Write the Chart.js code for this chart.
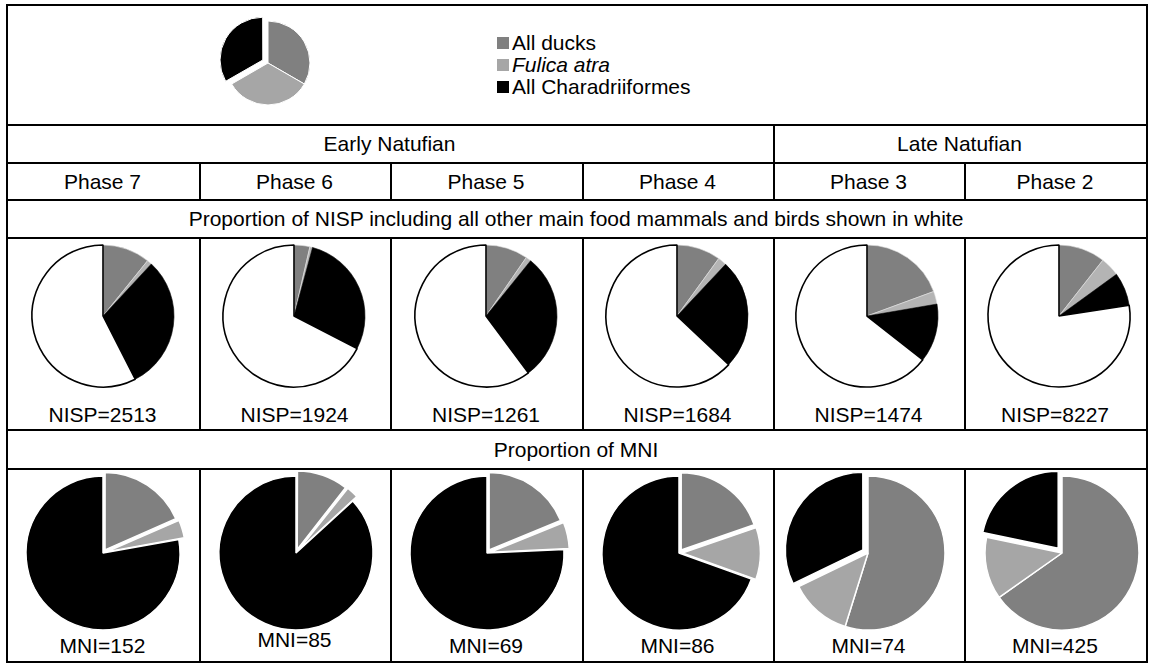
<!DOCTYPE html>
<html>
<head>
<meta charset="utf-8">
<script src="https://cdn.jsdelivr.net/npm/chart.js@4"></script>
<style>
  body { margin: 0; background: #fff; }
  #fig { position: relative; width: 1149px; height: 664px; background: #fff; font-family: "Liberation Sans", Arial, sans-serif; color: #000; overflow: hidden; }
  .hl, .vl { position: absolute; background: #000; }
  .txt { position: absolute; display: flex; align-items: center; justify-content: center; font-size: 21px; white-space: nowrap; }
  canvas { position: absolute; }
  .leg { position: absolute; left: 497px; font-size: 21px; line-height: 22px; }
  .leg div { display: flex; align-items: center; height: 22px; }
  .sw { display: inline-block; width: 12px; height: 12px; margin-right: 3px; }
</style>
</head>
<body>
<div id="fig"></div>
<script>
// ---- data (percent of each pie) ----
const phases = ['Phase 7', 'Phase 6', 'Phase 5', 'Phase 4', 'Phase 3', 'Phase 2'];
const periods = ['Early Natufian', 'Late Natufian'];
const seriesNames = ['All ducks', 'Fulica atra', 'All Charadriiformes'];
const legendShare = [1, 1, 1];

const nispTotals = [2513, 1924, 1261, 1684, 1474, 8227];
const nispDucks = [10.8, 3.6, 9.6, 10.0, 19.4, 10.6];
const nispFulica = [1.1, 0.6, 1.2, 2.0, 2.9, 4.4];
const nispCharad = [30.6, 28.4, 29.0, 25.0, 13.3, 7.6];
const nispOther = [57.5, 67.4, 60.2, 63.0, 64.4, 77.4];

const mniTotals = [152, 85, 69, 86, 74, 425];
const mniDucks = [18.4, 10.6, 18.8, 19.7, 54.8, 65.2];
const mniFulica = [3.8, 2.6, 5.5, 10.8, 13.0, 13.1];
const mniCharad = [77.8, 86.8, 75.7, 69.5, 32.2, 21.7];

// ---- layout ----
const fig = document.getElementById('fig');
const colX = [6, 199, 390, 582, 773, 964, 1146];
const nispCx = [103, 294, 486, 677, 867, 1059];
const mniCx = [103, 296, 487, 679, 868, 1062];
const COLORS = ['#808080', '#a6a6a6', '#000000'];

function hline(y, x1, x2) {
    const d = document.createElement('div');
    d.className = 'hl';
    d.style.cssText = `left:${x1}px;top:${y}px;width:${x2 - x1 + 2}px;height:2px`;
    fig.appendChild(d);
}
function vline(x, y1, y2) {
    const d = document.createElement('div');
    d.className = 'vl';
    d.style.cssText = `left:${x}px;top:${y1}px;width:2px;height:${y2 - y1 + 2}px`;
    fig.appendChild(d);
}
function text(str, x1, x2, y1, y2, extra) {
    const d = document.createElement('div');
    d.className = 'txt';
    d.style.cssText = `left:${x1}px;top:${y1}px;width:${x2 - x1}px;height:${y2 - y1}px;` + (extra || '');
    d.textContent = str;
    fig.appendChild(d);
}

// grid
[4, 124, 162, 199, 237, 429, 468, 661].forEach(y => hline(y, colX[0], colX[6]));
vline(colX[0], 4, 661);
vline(colX[6], 4, 661);
[1, 2, 3, 5].forEach(i => { vline(colX[i], 162, 199); vline(colX[i], 237, 429); vline(colX[i], 468, 661); });
vline(colX[4], 124, 199); vline(colX[4], 237, 429); vline(colX[4], 468, 661);

// headers
text(periods[0], colX[0], colX[4], 126, 162);
text(periods[1], colX[4], colX[6], 126, 162);
phases.forEach((p, i) => text(p, colX[i], colX[i + 1], 164, 199));
text('Proportion of NISP including all other main food mammals and birds shown in white', colX[0], colX[6], 201, 237);
text('Proportion of MNI', colX[0], colX[6], 431, 468);
nispTotals.forEach((n, i) => text('NISP=' + n, colX[i], colX[i + 1], 401, 429));
mniTotals.forEach((n, i) => text('MNI=' + n, colX[i], colX[i + 1], i === 1 ? 626 : 632, i === 1 ? 654 : 660));

// legend
const leg = document.createElement('div');
leg.className = 'leg';
leg.style.top = '32px';
seriesNames.forEach((s, i) => {
    const row = document.createElement('div');
    row.innerHTML = `<span class="sw" style="background:${COLORS[i]}"></span>` + (i === 1 ? `<i>${s}</i>` : s);
    leg.appendChild(row);
});
fig.appendChild(leg);

// chart.js draws arc offset / 4, so these are 4x the pixel shift
function makePie(cx, cy, r, values, colors, borderColors, borderWidth, offsets) {
    const size = 2 * (r + 14);
    const c = document.createElement('canvas');
    c.width = size; c.height = size;
    c.style.left = (cx - size / 2) + 'px';
    c.style.top = (cy - size / 2) + 'px';
    fig.appendChild(c);
    new Chart(c.getContext('2d'), {
        type: 'pie',
        data: {
            labels: values.map((v, i) => String(i)),
            datasets: [{
                data: values, backgroundColor: colors, borderColor: borderColors,
                borderWidth: borderWidth, offset: offsets, radius: r
            }]
        },
        options: {
            responsive: false, maintainAspectRatio: false, animation: false, events: [],
            devicePixelRatio: 1,
            layout: { padding: 0 },
            plugins: { legend: { display: false }, tooltip: { enabled: false } }
        }
    });
}

// legend pie
makePie(268, 63, 42, legendShare, COLORS, ['#fff', '#fff', '#fff'], 1, [0, 0, 24]);

// NISP pies
for (let i = 0; i < 6; i++) {
    makePie(nispCx[i], 316, 71,
        [nispDucks[i], nispFulica[i], nispCharad[i], nispOther[i]],
        [COLORS[0], '#b4b4b4', COLORS[2], '#ffffff'],
        ['#e0e0e0', '#e0e0e0', '#000', '#000'], [0.6, 0.6, 0.6, 1.6], 0);
}

// MNI pies: early phases explode ducks + Fulica, late phases explode Charadriiformes
for (let i = 0; i < 6; i++) {
    const off = i < 4 ? [15, 13, 0] : [0, 0, 24];
    makePie(mniCx[i], 553, 77,
        [mniDucks[i], mniFulica[i], mniCharad[i]],
        COLORS, ['#fff', '#fff', '#fff'], 1.5, off);
}
</script>
</body>
</html>
